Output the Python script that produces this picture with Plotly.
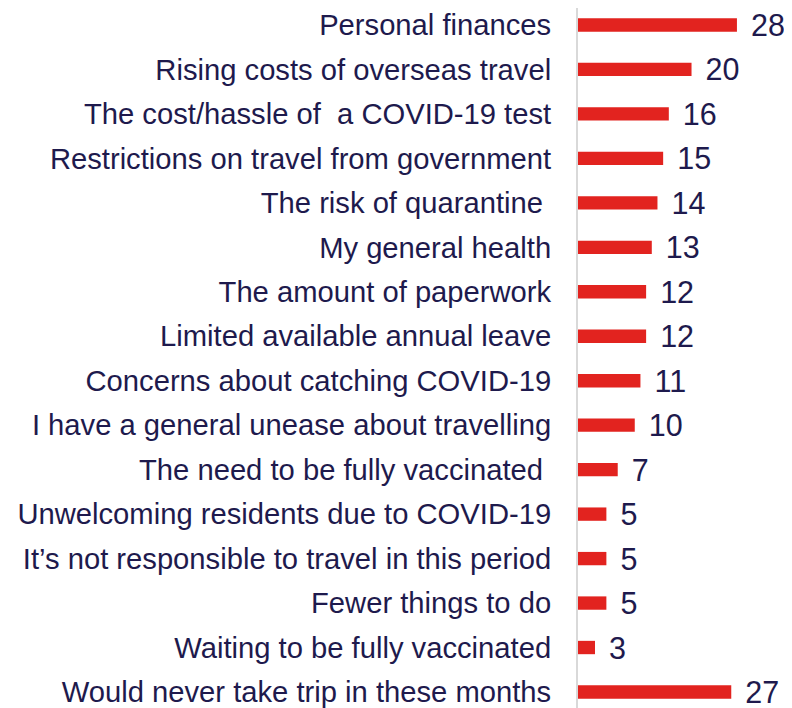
import plotly.graph_objects as go

categories = [
    "Personal finances",
    "Rising costs of overseas travel",
    "The cost/hassle of \u00a0a COVID-19 test",
    "Restrictions on travel from government",
    "The risk of quarantine\u00a0",
    "My general health",
    "The amount of paperwork",
    "Limited available annual leave",
    "Concerns about catching COVID-19",
    "I have a general unease about travelling",
    "The need to be fully vaccinated\u00a0",
    "Unwelcoming residents due to COVID-19",
    "It\u2019s not responsible to travel in this period",
    "Fewer things to do",
    "Waiting to be fully vaccinated",
    "Would never take trip in these months",
]
values = [28, 20, 16, 15, 14, 13, 12, 12, 11, 10, 7, 5, 5, 5, 3, 27]

navy = "#1e1a4d"
red = "#e2231f"
font_family = "Liberation Sans, Arial, sans-serif"

fig = go.Figure(go.Bar(
    x=values,
    y=categories,
    orientation="h",
    marker=dict(color=red, line=dict(width=0)),
    width=0.3,
    text=values,
    texttemplate="\u00a0\u200a%{text}",
    textposition="outside",
    constraintext="none",
    textfont=dict(family=font_family, size=30.5, color=navy),
    cliponaxis=False,
))

# The page body has an 8px margin, so the figure is laid out 8px smaller
fig.update_layout(
    width=784, height=700,
    margin=dict(l=570, r=0, t=0, b=0),
    paper_bgcolor="white",
    plot_bgcolor="white",
    showlegend=False,
    font=dict(family=font_family, size=29, color=navy),
    xaxis=dict(range=[0, 37.7], visible=False, showgrid=False, zeroline=False),
    yaxis=dict(
        categoryorder="array", categoryarray=categories,
        range=[15.36, -0.382],
        showgrid=False, zeroline=False,
        showline=True, linecolor="#d9d9d9", linewidth=2,
        ticks="", ticklabelstandoff=19,
        tickfont=dict(family=font_family, size=29.2, color=navy),
        automargin=False,
    ),
)

fig.write_html("out.html")
